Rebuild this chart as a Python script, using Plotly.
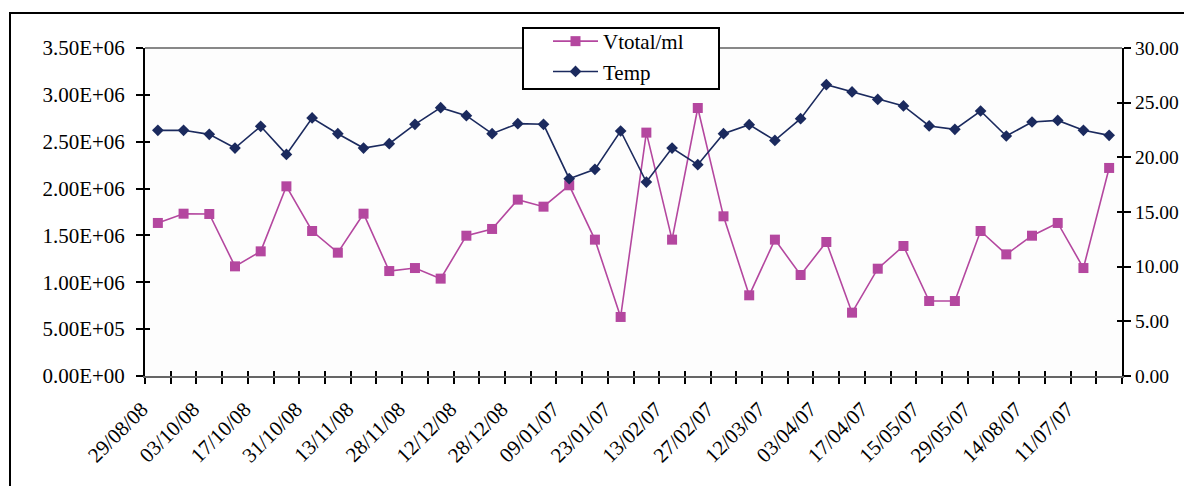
import plotly.graph_objects as go

# ---------------- data ----------------
x_index = list(range(38))
tick_labels = ["29/08/08", "03/10/08", "17/10/08", "31/10/08", "13/11/08", "28/11/08",
               "12/12/08", "28/12/08", "09/01/07", "23/01/07", "13/02/07", "27/02/07",
               "12/03/07", "03/04/07", "17/04/07", "15/05/07", "29/05/07", "14/08/07",
               "11/07/07"]
tick_label_pos = list(range(0, 38, 2))[:len(tick_labels)]

vtotal = [1.633e6, 1.732e6, 1.729e6, 1.170e6, 1.330e6, 2.024e6, 1.547e6, 1.316e6,
          1.732e6, 1.120e6, 1.152e6, 1.039e6, 1.497e6, 1.569e6, 1.882e6, 1.807e6,
          2.035e6, 1.455e6, 0.630e6, 2.597e6, 1.455e6, 2.860e6, 1.704e6, 0.861e6,
          1.455e6, 1.078e6, 1.430e6, 0.676e6, 1.145e6, 1.387e6, 0.800e6, 0.800e6,
          1.547e6, 1.298e6, 1.497e6, 1.633e6, 1.152e6, 2.220e6]
temp = [22.47, 22.47, 22.10, 20.85, 22.84, 20.27, 23.60, 22.16, 20.85, 21.25,
        23.02, 24.54, 23.81, 22.16, 23.08, 23.02, 18.05, 18.90, 22.41, 17.74,
        20.85, 19.33, 22.16, 22.99, 21.55, 23.54, 26.65, 25.98, 25.30, 24.70,
        22.87, 22.56, 24.24, 21.95, 23.23, 23.38, 22.47, 22.01]

left_tickvals = [0, 5e5, 1e6, 1.5e6, 2e6, 2.5e6, 3e6, 3.5e6]
left_ticktext = ["0.00E+00", "5.00E+05", "1.00E+06", "1.50E+06", "2.00E+06",
                 "2.50E+06", "3.00E+06", "3.50E+06"]
right_tickvals = [0, 5, 10, 15, 20, 25, 30]
right_ticktext = ["0.00", "5.00", "10.00", "15.00", "20.00", "25.00", "30.00"]

PINK = "#b4479f"
NAVY = "#1b2a5e"
FONT = "Liberation Serif, Times New Roman, serif"

boundaries = [i - 0.5 for i in range(len(x_index) + 1)]
xrange_ = [-0.5, len(x_index) - 0.5]

# plot area in pixels (left 145, right 1122, top 48, bottom 376)
PW, PH = 977.0, 328.0
def px(xpix):
    return (xpix - 145) / PW
def py(ypix):
    return (376 - ypix) / PH

fig = go.Figure()
fig.add_trace(go.Scatter(x=x_index, y=vtotal, name="Vtotal/ml", mode="lines+markers",
                         line=dict(color=PINK, width=1.6),
                         marker=dict(symbol="square", size=10, color=PINK),
                         xaxis="x", yaxis="y"))
fig.add_trace(go.Scatter(x=x_index, y=temp, name="Temp", mode="lines+markers",
                         line=dict(color=NAVY, width=1.6),
                         marker=dict(symbol="diamond", size=9, color=NAVY),
                         xaxis="x", yaxis="y2"))
# empty helper traces so the overlay tick axes render
for xa, ya in [("x3", "y"), ("x4", "y"), ("x", "y3"), ("x", "y4")]:
    fig.add_trace(go.Scatter(x=[None], y=[None], xaxis=xa, yaxis=ya, showlegend=False,
                             hoverinfo="skip", mode="markers"))

tickfont = dict(family=FONT, size=21, color="black")
rightfont = dict(family=FONT, size=19.5, color="black")

fig.update_layout(
    width=1184, height=486, autosize=False,
    margin=dict(l=145, r=62, t=48, b=110, autoexpand=False),
    paper_bgcolor="white", plot_bgcolor="#fdfdfd",
    font=tickfont,
    xaxis=dict(range=xrange_, tickmode="array", tickvals=boundaries, ticks="outside",
               ticklen=6, tickwidth=2, tickcolor="black", showticklabels=False,
               showline=True, linecolor="#666666", linewidth=2, showgrid=False,
               zeroline=False, fixedrange=True, automargin=False),
    xaxis3=dict(range=xrange_, overlaying="x", anchor="y", side="bottom", tickmode="array",
                tickvals=boundaries, ticks="inside", ticklen=5, tickwidth=2,
                tickcolor="black", showticklabels=False, showline=False, showgrid=False,
                zeroline=False, automargin=False),
    xaxis4=dict(range=xrange_, overlaying="x", anchor="y", side="bottom", tickmode="array",
                tickvals=tick_label_pos, ticktext=tick_labels, ticks="", tickangle=-45,
                tickfont=tickfont, showline=False, showgrid=False, zeroline=False,
                ticklabelstandoff=16, ticklabelshift=-16, automargin=False),
    yaxis=dict(range=[0, 3.5e6], tickmode="array", tickvals=left_tickvals,
               ticktext=left_ticktext, ticks="outside", ticklen=7, tickwidth=2,
               tickcolor="black", showline=True, linecolor="black", linewidth=2,
               showgrid=False, zeroline=False, tickfont=tickfont, ticklabelstandoff=7,
               automargin=False),
    yaxis3=dict(range=[0, 3.5e6], overlaying="y", anchor="x", side="left",
                tickmode="array", tickvals=left_tickvals, ticks="inside", ticklen=5,
                tickwidth=2, tickcolor="black", showticklabels=False, showline=False,
                showgrid=False, zeroline=False, automargin=False),
    yaxis2=dict(range=[0, 30], overlaying="y", anchor="x", side="right",
                tickmode="array", tickvals=right_tickvals, ticktext=right_ticktext,
                ticks="outside", ticklen=7, tickwidth=2, tickcolor="black",
                showline=True, linecolor="black", linewidth=2, showgrid=False,
                zeroline=False, tickfont=rightfont, ticklabelstandoff=0, automargin=False),
    yaxis4=dict(range=[0, 30], overlaying="y", anchor="x", side="right",
                tickmode="array", tickvals=right_tickvals, ticks="inside", ticklen=5,
                tickwidth=2, tickcolor="black", showticklabels=False, showline=False,
                showgrid=False, zeroline=False, automargin=False),
    legend=dict(x=px(548), y=py(21), xanchor="left", yanchor="top",
                bgcolor="rgba(0,0,0,0)", borderwidth=0, itemwidth=45,
                font=dict(family=FONT, size=21, color="black"), tracegroupgap=0),
    showlegend=True,
    shapes=[
        # top border line of plot area (gray)
        dict(type="line", xref="x domain", yref="y domain", x0=0, x1=1, y0=1, y1=1,
             line=dict(color="#888888", width=2), layer="above"),
        # legend box
        dict(type="rect", xref="paper", yref="paper",
             x0=px(523), x1=px(719), y0=py(89), y1=py(28),
             fillcolor="white", line=dict(color="black", width=2), layer="above"),
        # outer frame
        dict(type="rect", xref="paper", yref="paper",
             x0=px(10), x1=px(1200), y0=py(500), y1=py(13),
             line=dict(color="black", width=2), fillcolor="rgba(0,0,0,0)", layer="below"),
    ],
)

post = ("document.body.style.margin='0px';document.body.style.overflow='hidden';"
        "document.documentElement.style.overflow='hidden';")
fig.write_html("out.html", config={"responsive": False, "displayModeBar": False},
               post_script=post)
